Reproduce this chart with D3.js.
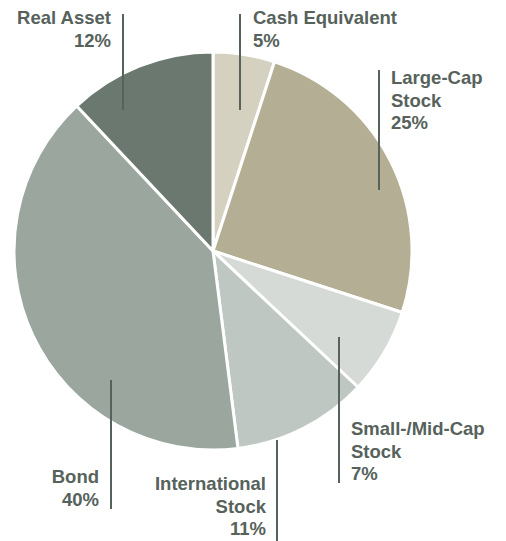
<!DOCTYPE html>
<html>
<head>
<meta charset="utf-8">
<script src="https://cdn.jsdelivr.net/npm/d3@7"></script>
<style>
  body { margin: 0; background: #fff; }
  text { font-family: "Liberation Sans", Arial, sans-serif; font-weight: 700; font-size: 18.5px; fill: #56625b; }
</style>
</head>
<body>
<svg id="chart" width="506" height="541"></svg>
<script>
// allocation, clockwise from 12 o'clock
var categories = ["Cash Equivalent", "Large-Cap Stock", "Small-/Mid-Cap Stock", "International Stock", "Bond", "Real Asset"];
var values = [5, 25, 7, 11, 40, 12];
var labelLines = [
  ["Cash Equivalent", "5%"],
  ["Large-Cap", "Stock", "25%"],
  ["Small-/Mid-Cap", "Stock", "7%"],
  ["International", "Stock", "11%"],
  ["Bond", "40%"],
  ["Real Asset", "12%"]
];
var colors = ["#d5d1c1", "#b4af94", "#d6dad6", "#bec7c1", "#9aa69e", "#6b786f"];

// leader line + label placement (layout only)
var layout = [
  { lx: 240, y1: 14, y2: 110, tx: 253, ty: 24, anchor: "start" },
  { lx: 379, y1: 70, y2: 190, tx: 391, ty: 84, anchor: "start" },
  { lx: 339, y1: 337, y2: 483, tx: 351, ty: 435, anchor: "start" },
  { lx: 277, y1: 440, y2: 541, tx: 266, ty: 490, anchor: "end" },
  { lx: 111, y1: 380, y2: 509, tx: 99, ty: 483, anchor: "end" },
  { lx: 123, y1: 14, y2: 110, tx: 111, ty: 24, anchor: "end" }
];

var cx = 213, cy = 251, radius = 199, lineH = 22.5;

var svg = d3.select("#chart");

var data = categories.map(function (c, i) {
  return { name: c, value: values[i], color: colors[i], lines: labelLines[i], pos: layout[i] };
});

var pie = d3.pie().sort(null).value(function (d) { return d.value; });
var arc = d3.arc().innerRadius(0).outerRadius(radius);

var g = svg.append("g").attr("transform", "translate(" + cx + "," + cy + ")");

g.selectAll("path.slice")
  .data(pie(data))
  .enter()
  .append("path")
  .attr("class", "slice")
  .attr("d", arc)
  .attr("fill", function (d) { return d.data.color; })
  .attr("stroke", "#fff")
  .attr("stroke-width", 3)
  .attr("stroke-linejoin", "round");

// leader lines
svg.selectAll("line.leader")
  .data(data)
  .enter()
  .append("line")
  .attr("class", "leader")
  .attr("x1", function (d) { return d.pos.lx; })
  .attr("x2", function (d) { return d.pos.lx; })
  .attr("y1", function (d) { return d.pos.y1; })
  .attr("y2", function (d) { return d.pos.y2; })
  .attr("stroke", "#56625b")
  .attr("stroke-width", 2);

// labels
var label = svg.selectAll("text.label")
  .data(data)
  .enter()
  .append("text")
  .attr("class", "label")
  .attr("text-anchor", function (d) { return d.pos.anchor; });

label.selectAll("tspan")
  .data(function (d) { return d.lines.map(function (t, i) { return { t: t, i: i, pos: d.pos }; }); })
  .enter()
  .append("tspan")
  .attr("x", function (d) { return d.pos.tx; })
  .attr("y", function (d) { return d.pos.ty + d.i * lineH; })
  .text(function (d) { return d.t; });
</script>
</body>
</html>
